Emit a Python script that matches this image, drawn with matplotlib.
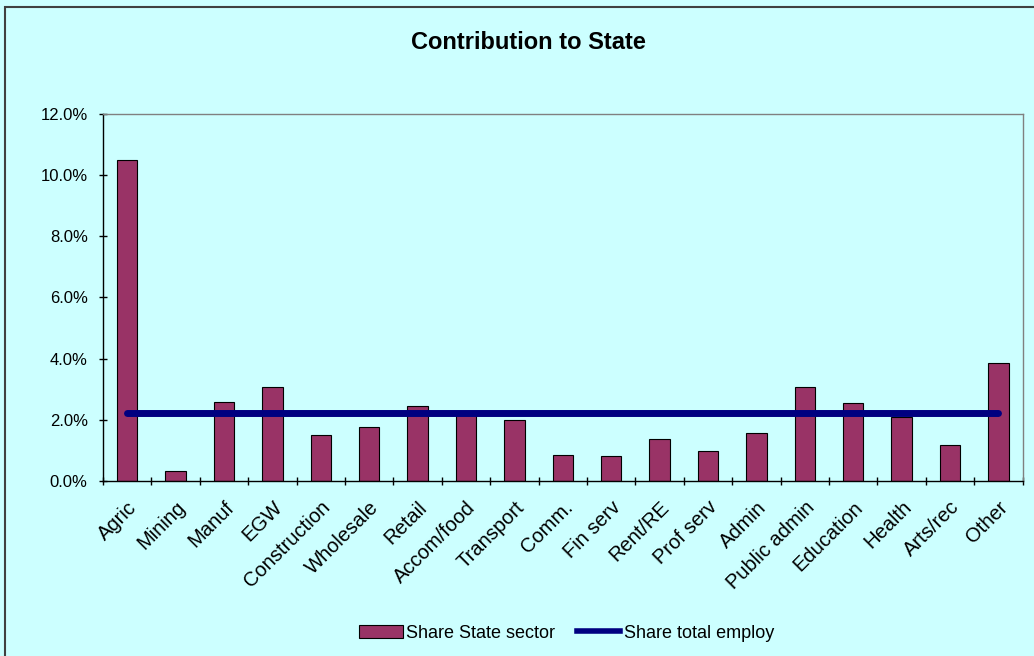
import matplotlib.pyplot as plt
from matplotlib.patches import Rectangle, Patch
from matplotlib.lines import Line2D
from matplotlib.ticker import FuncFormatter, MultipleLocator
import numpy as np

sectors = ['Agric', 'Mining', 'Manuf', 'EGW', 'Construction', 'Wholesale', 'Retail',
           'Accom/food', 'Transport', 'Comm.', 'Fin serv', 'Rent/RE', 'Prof serv',
           'Admin', 'Public admin', 'Education', 'Health', 'Arts/rec', 'Other']
share_state_sector = [10.5, 0.32, 2.59, 3.07, 1.49, 1.77, 2.44, 2.2, 2.0, 0.86,
                      0.82, 1.37, 0.98, 1.58, 3.07, 2.56, 2.08, 1.18, 3.86]
share_total_employ = [2.23] * len(sectors)

bg = '#CCFFFF'
plt.rcParams['font.family'] = ['Liberation Sans', 'DejaVu Sans']

fig = plt.figure(figsize=(10.34, 6.56), dpi=100, facecolor=bg)
ax = fig.add_axes([0.0996, 0.2668, 0.8894, 0.5594], facecolor=bg)

x = np.arange(len(sectors))
ax.bar(x, share_state_sector, width=0.42, color='#993366', edgecolor='black', linewidth=0.8, zorder=2)
ax.plot(x, share_total_employ, color='#000080', linewidth=5, solid_capstyle='round', zorder=3)

ax.set_xlim(-0.5, len(sectors) - 0.5)
ax.set_ylim(0, 12)
ax.yaxis.set_major_locator(MultipleLocator(2))
ax.yaxis.set_major_formatter(FuncFormatter(lambda v, p: f'{v:.1f}%'))

ax.set_xticks(x)
ax.set_xticklabels(sectors, rotation=45, ha='right', rotation_mode='anchor', fontsize=14.5)
ax.set_xticks(np.arange(-0.5, len(sectors)), minor=True)
ax.tick_params(axis='x', which='major', length=0, pad=12)
ax.tick_params(axis='x', which='minor', length=6, direction='inout', width=1)
ax.tick_params(axis='y', length=6, direction='inout', width=1, labelsize=12, pad=8)

for s in ['top', 'right']:
    ax.spines[s].set_color('#808080')
    ax.spines[s].set_linewidth(1)
for s in ['left', 'bottom']:
    ax.spines[s].set_color('black')
    ax.spines[s].set_linewidth(1)

fig.text(0.511, 0.935, 'Contribution to State', ha='center', va='center',
         fontsize=17, fontweight='bold')

handles = [Patch(facecolor='#993366', edgecolor='black', linewidth=0.8),
           Line2D([0], [0], color='#000080', linewidth=4)]
fig.legend(handles, ['Share State sector', 'Share total employ'], loc='center',
           bbox_to_anchor=(0.548, 0.035), ncol=2, frameon=False, fontsize=13,
           handlelength=2.4, columnspacing=1.2, handletextpad=0.2)

fig.add_artist(Rectangle((0.005, -0.01), 1.1, 1.0, transform=fig.transFigure,
                         fill=False, edgecolor='#404040', linewidth=1.5))

fig.savefig('out.png', dpi=100, facecolor=bg)
